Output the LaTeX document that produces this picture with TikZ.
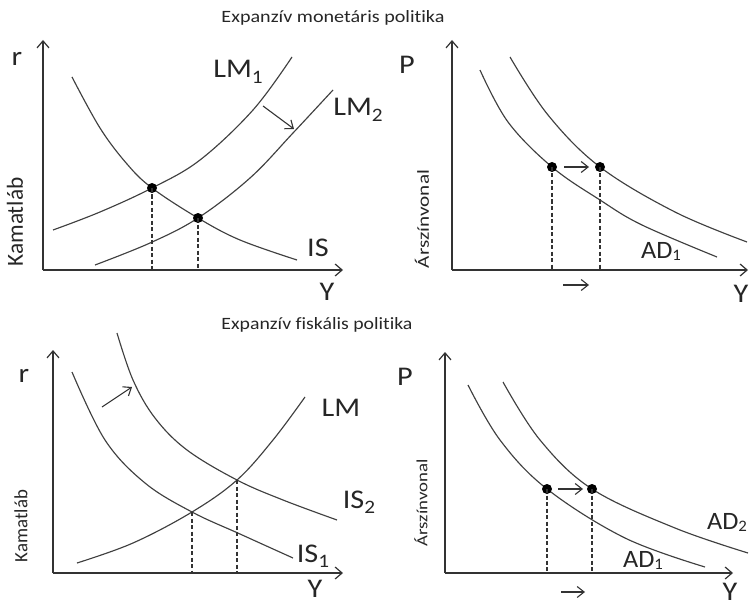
\documentclass[tikz,border=0pt]{standalone}
\usepackage{fontspec}
\setmainfont{Carlito}[Ligatures=NoCommon]
\usetikzlibrary{arrows.meta}
\newcommand\biglab[1]{\scalebox{1.12}[1]{\fontsize{27}{27}\selectfont #1}}
\newcommand\sbs[1]{\raisebox{-0.2em}{\fontsize{19}{19}\selectfont #1}}
\newcommand\adl[1]{\scalebox{1.05}[1]{\fontsize{25}{25}\selectfont #1}}
\newcommand\sba[1]{\raisebox{-0.08em}{\fontsize{16}{16}\selectfont #1}}
\begin{document}
\begin{tikzpicture}[x=1pt,y=-1pt,
  curve/.style={draw=black!75,line width=1.15pt},
  axis/.style={draw=black!80,line width=1.3pt,-{Straight Barb[length=7pt,width=12pt,line width=1.2pt]}},
  shiftarr/.style={draw=black!80,line width=1.1pt,-{Straight Barb[length=7pt,width=11pt,line width=1.1pt]}},
  vdash/.style={draw=black!80,line width=1.1pt,dash pattern=on 4pt off 2.5pt},
  eqdot/.style={circle,fill=black,inner sep=0pt,minimum size=10pt},
  lbl/.style={inner sep=0pt,text=black!85},
]
\useasboundingbox (0,0) rectangle (750,607);

% titles
\node[lbl] (t1) at (333,18) {\resizebox{223pt}{12pt}{Expanzív monetáris politika}};
\node[lbl] (t2) at (317,325) {\resizebox{191pt}{12pt}{Expanzív fiskális politika}};

% ===== top-left: IS-LM, monetary
\coordinate (o1) at (43,270);
\coordinate (y1) at (43,40);
\coordinate (x1) at (343,270);
\draw[axis] (o1) -- (y1);
\draw[axis] (o1) -- (x1);
\draw[curve] plot[smooth,tension=0.6] coordinates {(53,230) (100,212) (152,188) (200,160) (253,110) (292,57)};
\draw[curve] plot[smooth,tension=0.6] coordinates {(95,265) (150,243) (198,218) (250,178) (293,133) (333,90)};
\draw[curve] plot[smooth,tension=0.6] coordinates {(72,77) (100,128) (127,164) (152,188) (198,218) (240,240) (297,260)};
\node[eqdot] (d1) at (152,188) {};
\node[eqdot] (d2) at (198,218) {};
\draw[vdash] (d1.center) -- (d1 |- o1);
\draw[vdash] (d2.center) -- (d2 |- o1);
\coordinate (s1a) at (263,106);
\coordinate (s1b) at (294,129);
\draw[shiftarr] (s1a) -- (s1b);
\node[lbl] (r1) at (17,59) {\biglab{r}};
\node[lbl] (lm1) at (238,72) {\biglab{LM\sbs{1}}};
\node[lbl] (lm2) at (358,110) {\biglab{LM\sbs{2}}};
\node[lbl] (is0) at (318,248) {\biglab{IS}};
\node[lbl] (yy1) at (327,292) {\biglab{Y}};
\node[lbl,rotate=90] (k1) at (15,222) {\resizebox{89pt}{16pt}{Kamatláb}};

% ===== top-right: AD, monetary
\coordinate (o2) at (452,270);
\coordinate (y2) at (452,40);
\coordinate (x2) at (748,270);
\draw[axis] (o2) -- (y2);
\draw[axis] (o2) -- (x2);
\draw[curve] plot[smooth,tension=0.6] coordinates {(480,70) (508,122) (552,167) (600,200) (642,225) (717,257)};
\draw[curve] plot[smooth,tension=0.6] coordinates {(510,57) (548,115) (600,167) (675,212) (747,242)};
\node[eqdot] (d3) at (552,167) {};
\node[eqdot] (d4) at (600,167) {};
\draw[vdash] (d3.center) -- (d3 |- o2);
\draw[vdash] (d4.center) -- (d4 |- o2);
\coordinate (s2a) at (564,167);
\coordinate (s2b) at (589,167);
\draw[shiftarr] (s2a) -- (s2b);
\coordinate (s3a) at (563,285);
\coordinate (s3b) at (589,285);
\draw[shiftarr] (s3a) -- (s3b);
\node[lbl] (p1) at (407,65) {\biglab{P}};
\node[lbl] (ad1) at (661,251) {\adl{AD\sba{1}}};
\node[lbl] (yy2) at (741,294) {\biglab{Y}};
\node[lbl,rotate=90] (a1) at (422,219) {\resizebox{98pt}{14pt}{Árszínvonal}};

% ===== bottom-left: IS-LM, fiscal
\coordinate (o3) at (53,573);
\coordinate (y3) at (53,350);
\coordinate (x3) at (343,573);
\draw[axis] (o3) -- (y3);
\draw[axis] (o3) -- (x3);
\draw[curve] plot[smooth,tension=0.6] coordinates {(72,372) (105,440) (145,483) (192,512) (240,534) (293,558)};
\draw[curve] plot[smooth,tension=0.6] coordinates {(117,333) (133,380) (155,418) (187,450) (237,480) (283,500) (337,520)};
\draw[curve] plot[smooth,tension=0.6] coordinates {(77,563) (133,543) (192,512) (237,480) (273,440) (305,397)};
\coordinate (i1) at (192,512);
\coordinate (i2) at (237,480);
\draw[vdash] (i1) -- (i1 |- o3);
\draw[vdash] (i2) -- (i2 |- o3);
\coordinate (s4a) at (102,407);
\coordinate (s4b) at (132,387);
\draw[shiftarr] (s4a) -- (s4b);
\node[lbl] (r2) at (24,376) {\biglab{r}};
\node[lbl] (lm3) at (341,408) {\biglab{LM}};
\node[lbl] (is2) at (359,502) {\biglab{IS\sbs{2}}};
\node[lbl] (is1) at (313,556) {\biglab{IS\sbs{1}}};
\node[lbl] (yy3) at (315,589) {\biglab{Y}};
\node[lbl,rotate=90] (k2) at (21,526) {\resizebox{72pt}{13pt}{Kamatláb}};

% ===== bottom-right: AD, fiscal
\coordinate (o4) at (445,573);
\coordinate (y4) at (445,352);
\coordinate (x4) at (733,573);
\draw[axis] (o4) -- (y4);
\draw[axis] (o4) -- (x4);
\draw[curve] plot[smooth,tension=0.6] coordinates {(468,385) (500,440) (547,489) (625,538) (705,567)};
\draw[curve] plot[smooth,tension=0.6] coordinates {(503,382) (540,440) (592,489) (675,528) (748,553)};
\node[eqdot] (d5) at (547,489) {};
\node[eqdot] (d6) at (592,489) {};
\draw[vdash] (d5.center) -- (d5 |- o4);
\draw[vdash] (d6.center) -- (d6 |- o4);
\coordinate (s5a) at (558,489);
\coordinate (s5b) at (583,489);
\draw[shiftarr] (s5a) -- (s5b);
\coordinate (s6a) at (561,592);
\coordinate (s6b) at (585,592);
\draw[shiftarr] (s6a) -- (s6b);
\node[lbl] (p2) at (405,377) {\biglab{P}};
\node[lbl] (ad2) at (727,522) {\adl{AD\sba{2}}};
\node[lbl] (ad3) at (643,560) {\adl{AD\sba{1}}};
\node[lbl] (yy4) at (730,592) {\biglab{Y}};
\node[lbl,rotate=90] (a2) at (421,503) {\resizebox{87pt}{13pt}{Árszínvonal}};
\end{tikzpicture}
\end{document}
